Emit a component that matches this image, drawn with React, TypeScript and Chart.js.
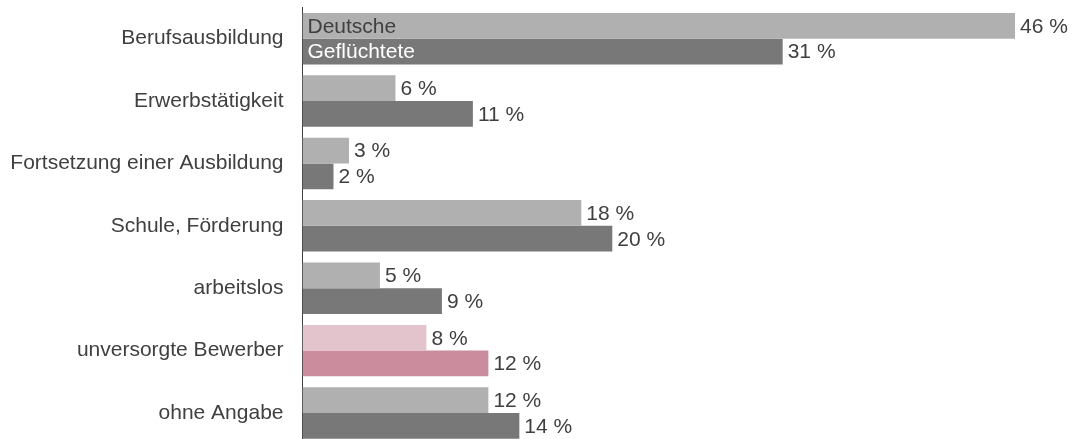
import React, { useEffect, useRef } from "react";
import { Chart, registerables } from "chart.js";

Chart.register(...registerables);

const categories = [
  "Berufsausbildung",
  "Erwerbstätigkeit",
  "Fortsetzung einer Ausbildung",
  "Schule, Förderung",
  "arbeitslos",
  "unversorgte Bewerber",
  "ohne Angabe",
];
const seriesNames = ["Deutsche", "Geflüchtete"];
const deutsche = [46, 6, 3, 18, 5, 8, 12];
const gefluechtete = [31, 11, 2, 20, 9, 12, 14];
const highlightIndex = 5;

const FONT = "'Liberation Sans', Arial, sans-serif";
const TEXT = "#404040";

export default function App() {
  const ref = useRef<HTMLCanvasElement | null>(null);
  useEffect(() => {
    const canvas = ref.current!;
    const lightColors = categories.map((_, i) => (i === highlightIndex ? "#e4c4cc" : "#b0b0b0"));
    const darkColors = categories.map((_, i) => (i === highlightIndex ? "#cb8c9e" : "#787878"));
    const labelPlugin = {
      id: "valueLabels",
      afterDatasetsDraw(chart: any) {
        const ctx = chart.ctx;
        ctx.save();
        ctx.font = `21px ${FONT}`;
        ctx.textBaseline = "middle";
        chart.data.datasets.forEach((ds: any, di: number) => {
          const meta = chart.getDatasetMeta(di);
          meta.data.forEach((bar: any, i: number) => {
            ctx.fillStyle = TEXT;
            ctx.textAlign = "left";
            ctx.fillText(`${ds.data[i]} %`, bar.x + 5, bar.y + 1);
            if (i === 0) {
              ctx.fillStyle = di === 0 ? TEXT : "#ffffff";
              ctx.fillText(ds.label, chart.chartArea.left + 5, bar.y + 1);
            }
          });
        });
        ctx.restore();
      },
    };
    const chart = new Chart(canvas, {
      type: "bar",
      data: {
        labels: categories,
        datasets: [
          { label: seriesNames[0], data: deutsche, backgroundColor: lightColors, barPercentage: 1, categoryPercentage: 0.825 },
          { label: seriesNames[1], data: gefluechtete, backgroundColor: darkColors, barPercentage: 1, categoryPercentage: 0.825 },
        ],
      },
      options: {
        indexAxis: "y",
        responsive: false,
        animation: false,
        layout: { padding: { top: 7.5, bottom: 1.8, left: 0, right: 10.5 } },
        plugins: { legend: { display: false }, tooltip: { enabled: false } },
        scales: {
          x: { display: false, min: 0, max: 49 },
          y: {
            grid: { display: false, drawTicks: false },
            border: { display: true, color: "#404040", width: 1 },
            ticks: { color: TEXT, font: { family: FONT, size: 21 }, padding: 19 },
            afterFit(scale: any) {
              scale.width = 302.5;
              scale.paddingTop = 0;
              scale.paddingBottom = 0;
            },
          },
        },
      },
      plugins: [labelPlugin],
    });
    return () => chart.destroy();
  }, []);
  return (
    <canvas
      ref={ref}
      width={1072}
      height={446}
      style={{ position: "absolute", left: 0, top: 0, display: "block" }}
    />
  );
}
